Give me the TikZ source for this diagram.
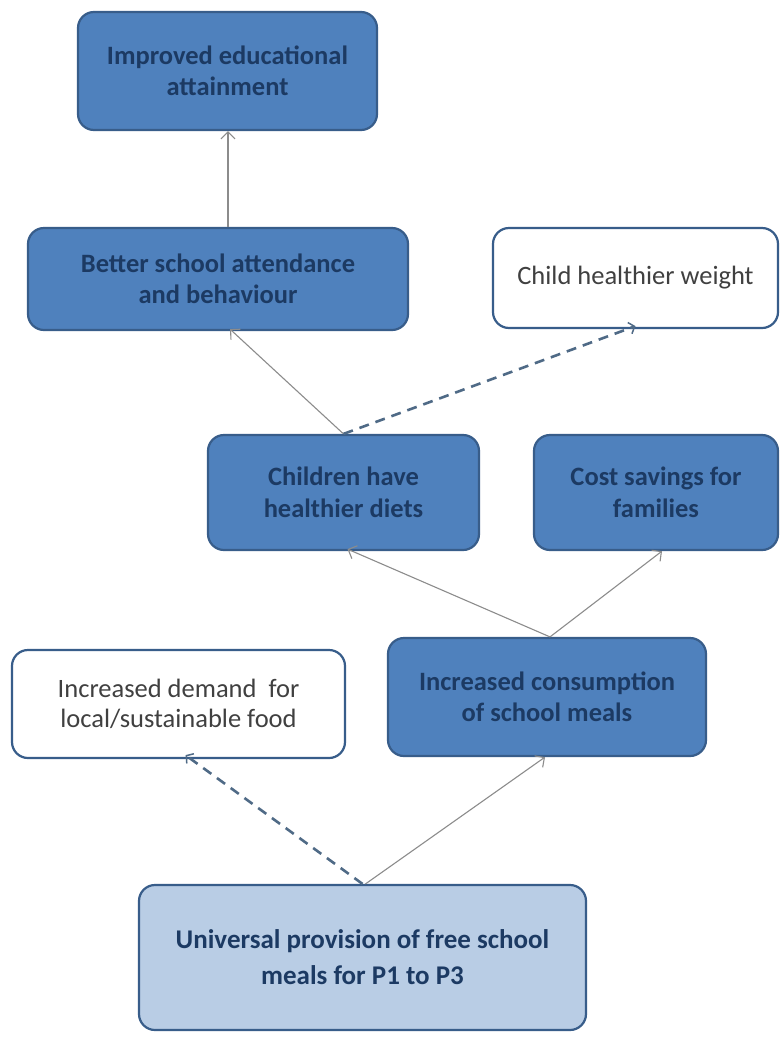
\documentclass[tikz,border=0pt]{standalone}
\usepackage{fontspec}
\setmainfont{Carlito}
\usetikzlibrary{arrows.meta,calc}
\definecolor{boxfill}{HTML}{4F81BD}
\definecolor{boxline}{HTML}{385D8A}
\definecolor{lightfill}{HTML}{B9CDE5}
\definecolor{darktext}{HTML}{1C3A63}
\definecolor{greytext}{HTML}{404040}
\definecolor{arrowgrey}{HTML}{8C8C8C}
\definecolor{dashcol}{HTML}{4F6A86}
\tikzset{
  base/.style={rounded corners=16pt, line width=2.2pt, draw=boxline, align=center, inner sep=0pt,
     font=\fontsize{26.5}{30.5}\selectfont},
  darkbox/.style={base, fill=boxfill, text=darktext, font=\fontsize{26.5}{31.5}\selectfont\bfseries},
  lightbox/.style={base, fill=lightfill, text=darktext, font=\fontsize{27}{36}\selectfont\bfseries},
  whitebox/.style={base, fill=white, text=greytext},
  solidarrow/.style={draw=arrowgrey, line width=1.1pt, -{Straight Barb[length=7pt,width=14pt,line width=1.1pt]}},
  dasharrow/.style={draw=dashcol, line width=2.6pt, dash pattern=on 10pt off 7pt, -{Straight Barb[length=5pt,width=12pt,line width=1.5pt]}}
}
\begin{document}
\begin{tikzpicture}[x=1pt,y=-1pt]
\useasboundingbox[fill=white] (0,0) rectangle (780,1037);
\node[darkbox, minimum width=299pt, minimum height=118pt] (imp) at (227.5,71) {Improved educational\\attainment};
\node[darkbox, minimum width=380pt, minimum height=102pt] (bet) at (218,279) {Better school attendance\\and behaviour};
\node[whitebox, minimum width=285pt, minimum height=100pt] (wgt) at (635.5,278) {Child healthier weight};
\node[darkbox, minimum width=271pt, minimum height=115pt] (die) at (343.5,492.5) {Children have\\healthier diets};
\node[darkbox, minimum width=244pt, minimum height=115pt] (cost) at (656,492.5) {Cost savings for\\families};
\node[whitebox, minimum width=333pt, minimum height=108pt] (dem) at (178.5,704) {Increased demand\ \ for\\local/sustainable food};
\node[darkbox, minimum width=318pt, minimum height=118pt] (con) at (547,697) {Increased consumption\\of school meals};
\node[lightbox, minimum width=447pt, minimum height=145pt] (uni) at (362.5,957.5) {Universal provision of free school\\meals for P1 to P3};

\draw[solidarrow] (bet.north) ++(10,0) coordinate (b1) -- (b1 |- imp.south);
\draw[solidarrow] (die.north) -- ([xshift=12pt,yshift=2pt]bet.south);
\draw[dasharrow] (die.north) -- ([yshift=3pt]wgt.south);
\draw[solidarrow] ([xshift=3pt]con.north) -- ([xshift=4pt,yshift=2pt]die.south);
\draw[solidarrow] ([xshift=3pt]con.north) -- ([xshift=6pt]cost.south);
\draw[solidarrow] ([xshift=3pt]uni.north) -- ([xshift=-2pt]con.south);
\draw[dasharrow] (uni.north) -- ([xshift=7pt,yshift=4pt]dem.south);
\end{tikzpicture}
\end{document}
